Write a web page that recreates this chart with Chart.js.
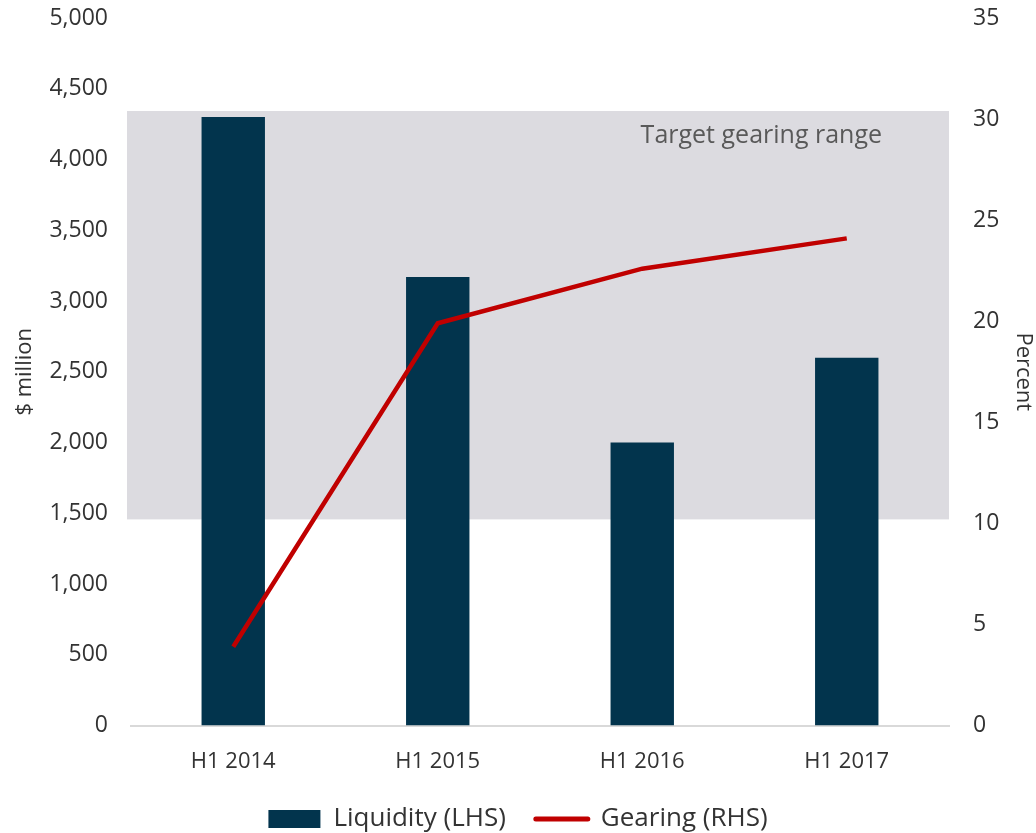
<!DOCTYPE html>
<html>
<head>
<meta charset="utf-8">
<script src="https://cdn.jsdelivr.net/npm/chart.js@4"></script>
<style>
  body { margin: 0; background: #fff; }
  #wrap { width: 1036px; height: 833px; }
</style>
</head>
<body>
<div id="wrap"><canvas id="gearingChart" width="1036" height="833"></canvas></div>
<script>
const periods = ["H1 2014", "H1 2015", "H1 2016", "H1 2017"];
const liquidity = [4300, 3170, 2000, 2600];
const gearing = [3.9, 19.9, 22.6, 24.1];
const targetRange = [10.2, 30.4];
const targetLabel = "Target gearing range";

const FONT = "'Open Sans', sans-serif";
const TEXT = "#333333";

// grey band for target gearing, drawn on the right axis
const bandPlugin = {
    id: "band",
    beforeDatasetsDraw(chart) {
        const { ctx, chartArea, scales } = chart;
        const top = scales.y1.getPixelForValue(targetRange[1]);
        const bottom = scales.y1.getPixelForValue(targetRange[0]);
        ctx.save();
        ctx.fillStyle = "#dcdbe0";
        ctx.fillRect(chartArea.left - 4, top, chartArea.right - chartArea.left + 4, bottom - top);
        ctx.fillStyle = "#595959";
        ctx.font = "25px " + FONT;
        ctx.textAlign = "right";
        ctx.textBaseline = "middle";
        ctx.fillText(targetLabel, chartArea.right - 67, top + 25);
        ctx.restore();
    }
};

new Chart(document.getElementById("gearingChart"), {
    data: {
        labels: periods,
        datasets: [{
            type: "line",
            label: "Gearing (RHS)",
            data: gearing,
            yAxisID: "y1",
            borderColor: "#c00000",
            backgroundColor: "#c00000",
            borderWidth: 4.5,
            pointRadius: 0,
            tension: 0,
            order: 0
        }, {
            type: "bar",
            label: "Liquidity (LHS)",
            data: liquidity,
            yAxisID: "y",
            backgroundColor: "#02344d",
            barPercentage: 0.31,
            categoryPercentage: 1,
            order: 1
        }]
    },
    options: {
        responsive: false,
        animation: false,
        layout: { padding: { top: 18, bottom: -9 } },
        scales: {
            x: {
                grid: { display: false },
                border: { color: "#d9d9d9", width: 2 },
                ticks: { color: TEXT, font: { family: FONT, size: 22 }, padding: 15 },
                afterFit(scale) { scale.height -= 14; }
            },
            y: {
                position: "left",
                min: 0, max: 5000,
                grid: { display: false },
                border: { display: false },
                ticks: {
                    stepSize: 500, color: TEXT, padding: 15,
                    font: { family: FONT, size: 23 },
                    callback: v => v.toLocaleString("en-US")
                },
                title: { display: true, text: "$ million", color: TEXT, font: { family: FONT, size: 22 }, padding: { top: 12, bottom: 0 } },
                afterFit(scale) { scale.width = 131; scale.paddingTop = 0; }
            },
            y1: {
                position: "right",
                min: 0, max: 35,
                grid: { display: false },
                border: { display: false },
                ticks: { stepSize: 5, color: TEXT, padding: 16, font: { family: FONT, size: 23 } },
                title: { display: true, text: "Percent", color: TEXT, font: { family: FONT, size: 22 }, padding: 0 },
                afterFit(scale) { scale.width = 87; scale.paddingTop = 0; }
            }
        },
        plugins: {
            tooltip: { enabled: false },
            legend: {
                position: "bottom",
                reverse: true,
                labels: {
                    color: TEXT,
                    font: { family: FONT, size: 26 },
                    usePointStyle: true,
                    pointStyleWidth: 52,
                    boxHeight: 18,
                    padding: 30,
                    generateLabels(chart) {
                        return chart.data.datasets.map((ds, i) => ({
                            text: ds.label,
                            datasetIndex: i,
                            fillStyle: ds.type === "bar" ? ds.backgroundColor : ds.borderColor,
                            strokeStyle: ds.type === "bar" ? ds.backgroundColor : ds.borderColor,
                            lineWidth: ds.type === "bar" ? 0 : 5,
                            lineCap: "round",
                            pointStyle: ds.type === "bar" ? "rect" : "line",
                            fontColor: TEXT
                        }));
                    }
                }
            }
        }
    },
    plugins: [bandPlugin]
});
</script>
</body>
</html>
